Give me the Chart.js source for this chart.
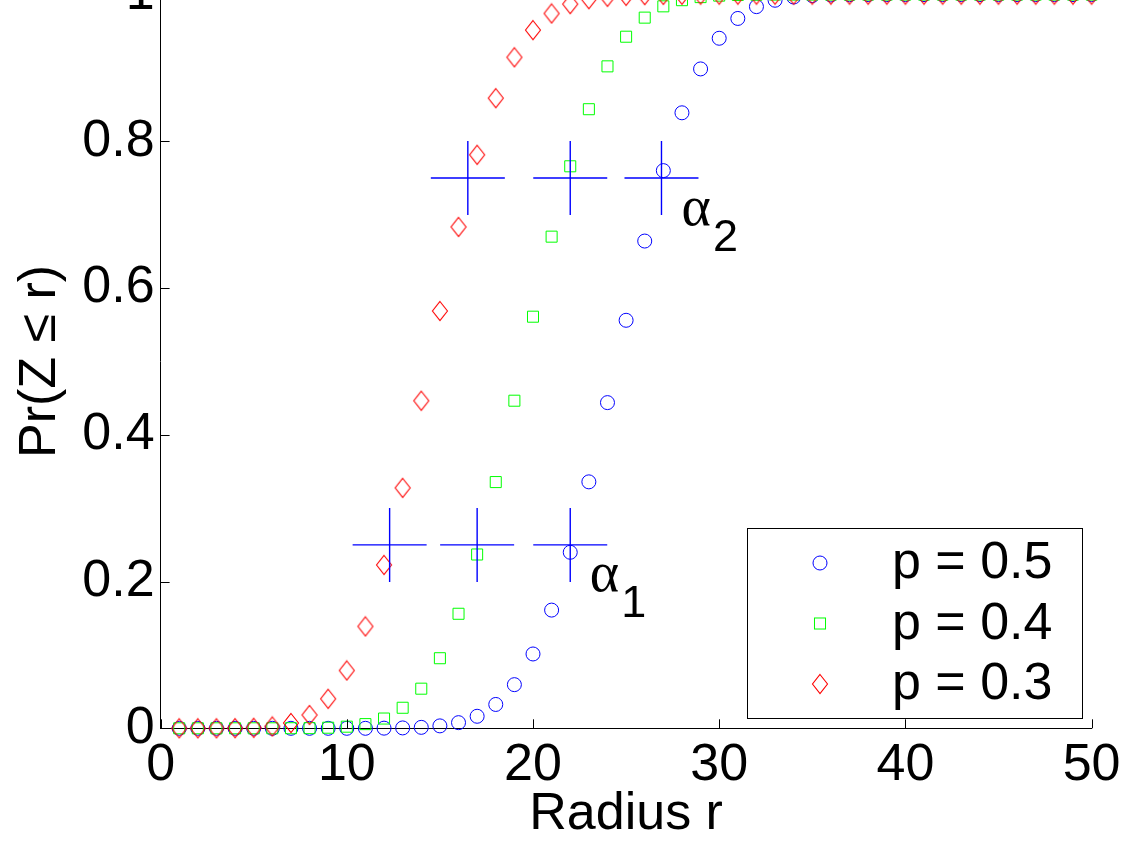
<!DOCTYPE html>
<html>
<head>
<meta charset="utf-8">
<script src="https://cdn.jsdelivr.net/npm/chart.js@4.4.1/dist/chart.umd.min.js"></script>
<style>
html,body{margin:0;padding:0;background:#fff;}
#wrap{position:relative;width:1130px;height:848px;overflow:hidden;background:#fff;}
#c{position:absolute;left:0;top:-60px;}
</style>
</head>
<body>
<div id="wrap"><canvas id="c" width="1130" height="908"></canvas></div>
<script>
// ---- data ----
const radius = [1,2,3,4,5,6,7,8,9,10,11,12,13,14,15,16,17,18,19,20,21,22,23,24,25,
                26,27,28,29,30,31,32,33,34,35,36,37,38,39,40,41,42,43,44,45,46,47,48,49,50];
const seriesLabels = ['p = 0.5', 'p = 0.4', 'p = 0.3'];
const prP05 = [0,0,0,0,0,0,0,0,0,0,0,0.0002,0.0005,0.0013,0.0033,0.0077,0.0164,0.0325,0.0595,0.1013,
               0.1611,0.2399,0.3359,0.4439,0.5561,0.6641,0.7601,0.8389,0.8987,0.9405,0.9675,0.9836,0.9923,0.9967,0.9987,
               0.9995,0.9998,1,1,1,1,1,1,1,1,1,1,1,1,1];
const prP04 = [0,0,0,0,0,0,0.0001,0.0002,0.0008,0.0022,0.0057,0.0133,0.0280,0.0540,0.0955,0.1561,0.2369,0.3356,0.4465,0.5610,
               0.6701,0.7660,0.8438,0.9022,0.9426,0.9686,0.9840,0.9924,0.9966,0.9986,0.9995,0.9998,1,1,1,
               1,1,1,1,1,1,1,1,1,1,1,1,1,1,1];
const prP03 = [0,0,0,0.0002,0.0007,0.0025,0.0073,0.0182,0.0402,0.0788,0.1389,0.2227,0.3277,0.4465,0.5688,0.6834,0.7817,0.8589,0.9146,0.9516,
               0.9743,0.9871,0.9938,0.9970,0.9984,0.9993,0.9997,0.9999,1,1,1,1,1,1,1,
               1,1,1,1,1,1,1,1,1,1,1,1,1,1,1];
const alpha1X = [12.3, 17.0, 22.0];
const alpha1Y = [0.25, 0.25, 0.25];
const alpha2X = [16.5, 22.0, 26.9];
const alpha2Y = [0.75, 0.75, 0.75];
const xTickValues = [0, 10, 20, 30, 40, 50];
const yTickValues = [0, 0.2, 0.4, 0.6, 0.8, 1];

// ---- styling ----
const FONT = '"Liberation Sans", Arial, Helvetica, sans-serif';
const SERIF = '"Liberation Serif", "Times New Roman", serif';
const FS = 52;

function diamondImage(color) {
  const c = document.createElement('canvas');
  c.width = 18; c.height = 22;
  const g = c.getContext('2d');
  g.strokeStyle = color; g.lineWidth = 1.1;
  g.beginPath();
  g.moveTo(9, 1.5); g.lineTo(16.5, 11); g.lineTo(9, 20.5); g.lineTo(1.5, 11);
  g.closePath(); g.stroke();
  return c;
}
const diamondRed = diamondImage('#ff0000');

const pts = (xs, ys) => xs.map((v, i) => ({x: v, y: ys[i]}));

const inwardTicks = {
  id: 'inwardTicks',
  afterDatasetsDraw(chart) {
    const {ctx, chartArea: a, scales: {x, y}} = chart;
    ctx.save();
    ctx.strokeStyle = '#000'; ctx.lineWidth = 1;
    ctx.beginPath();
    x.ticks.forEach(t => {
      const px = Math.round(x.getPixelForValue(t.value)) + 0.5;
      ctx.moveTo(px, a.bottom); ctx.lineTo(px, a.bottom - 9);
    });
    y.ticks.forEach(t => {
      const py = Math.round(y.getPixelForValue(t.value)) + 0.5;
      ctx.moveTo(a.left, py); ctx.lineTo(a.left + 9, py);
    });
    ctx.stroke();
    ctx.restore();
  }
};

const alphaLabels = {
  id: 'alphaLabels',
  afterDatasetsDraw(chart, args, opts) {
    const {ctx, scales: {x, y}} = chart;
    ctx.save();
    ctx.fillStyle = '#000';
    ctx.textBaseline = 'alphabetic';
    ctx.textAlign = 'left';
    opts.items.forEach(it => {
      const px = x.getPixelForValue(it.x), py = y.getPixelForValue(it.y);
      ctx.font = opts.alphaSize + 'px ' + SERIF;
      ctx.fillText('\u03B1', px, py);
      const w = ctx.measureText('\u03B1').width;
      ctx.font = opts.subSize + 'px ' + FONT;
      ctx.fillText(it.sub, px + w + opts.subDx, py + opts.subDy);
    });
    ctx.restore();
  }
};

const boxLegend = {
  id: 'boxLegend',
  afterDraw(chart, args, o) {
    const {ctx, chartArea: a} = chart;
    const right = Math.round(a.right - o.insetRight);
    const bottom = Math.round(a.bottom - o.insetBottom);
    const left = right - o.width, top = bottom - o.height;
    ctx.save();
    ctx.fillStyle = '#fff';
    ctx.fillRect(left, top, o.width, o.height);
    ctx.strokeStyle = '#000'; ctx.lineWidth = 1;
    ctx.strokeRect(left + 0.5, top + 0.5, o.width, o.height);
    chart.data.datasets.slice(0, 3).forEach((ds, i) => {
      const cx = left + o.markerX, cy = top + o.firstRow + i * o.rowGap;
      ctx.strokeStyle = ds.borderColor; ctx.lineWidth = ds.borderWidth;
      const st = ds.pointStyle, r = ds.pointRadius;
      if (typeof st === 'object') {
        ctx.drawImage(st, cx - st.width / 2, cy - st.height / 2);
      } else if (st === 'circle') {
        ctx.beginPath(); ctx.arc(cx, cy, r, 0, Math.PI * 2); ctx.stroke();
      } else if (st === 'rect') {
        const s = r * Math.SQRT1_2;
        ctx.strokeRect(cx - s, cy - s, 2 * s, 2 * s);
      }
      ctx.fillStyle = '#000';
      ctx.font = FS + 'px ' + FONT;
      ctx.textBaseline = 'middle'; ctx.textAlign = 'left';
      ctx.fillText(ds.label, left + o.textX, cy + 1);
    });
    ctx.restore();
  }
};

new Chart(document.getElementById('c'), {
  type: 'scatter',
  data: {
    datasets: [
      {label: seriesLabels[0], data: pts(radius, prP05), pointStyle: 'circle', pointRadius: 7,
       borderColor: '#0000ff', backgroundColor: 'rgba(0,0,0,0)', borderWidth: 1, order: 3, clip: false},
      {label: seriesLabels[1], data: pts(radius, prP04), pointStyle: 'rect', pointRadius: 7.8,
       borderColor: '#00ff00', backgroundColor: 'rgba(0,0,0,0)', borderWidth: 1, order: 2, clip: false},
      {label: seriesLabels[2], data: pts(radius, prP03), pointStyle: diamondRed, pointRadius: 10,
       borderColor: '#ff0000', backgroundColor: 'rgba(0,0,0,0)', borderWidth: 1.1, order: 1, clip: false},
      {label: 'alpha1', data: pts(alpha1X, alpha1Y), pointStyle: 'cross', pointRadius: 37,
       borderColor: '#0000ff', backgroundColor: 'rgba(0,0,0,0)', borderWidth: 1.4, order: 0, clip: false},
      {label: 'alpha2', data: pts(alpha2X, alpha2Y), pointStyle: 'cross', pointRadius: 37,
       borderColor: '#0000ff', backgroundColor: 'rgba(0,0,0,0)', borderWidth: 1.4, order: 0, clip: false}
    ]
  },
  options: {
    responsive: false,
    animation: false,
    devicePixelRatio: 1,
    layout: {padding: {top: 54.6, right: 36, bottom: 0, left: 0}},
    plugins: {
      legend: {display: false},
      tooltip: {enabled: false},
      alphaLabels: {alphaSize: 56, subSize: 45, subDx: 2, subDy: 26,
        items: [{x: 23.05, y: 0.1870, sub: '1'}, {x: 27.98, y: 0.6860, sub: '2'}]},
      boxLegend: {insetRight: 10, insetBottom: 10.3, width: 335, height: 190,
        markerX: 73, firstRow: 35, rowGap: 60.5, textX: 145}
    },
    scales: {
      x: {
        type: 'linear', position: 'bottom', min: 0, max: 50,
        afterBuildTicks: s => { s.ticks = xTickValues.map(v => ({value: v})); },
        afterFit: s => { s.height = 119.7; },
        grid: {display: true, drawOnChartArea: false, drawTicks: false},
        border: {display: true, color: '#000', width: 1},
        ticks: {color: '#000', font: {family: FONT, size: FS}, padding: 6, maxRotation: 0, autoSkip: false,
                callback: v => String(v)},
        title: {display: true, text: 'Radius r', color: '#000', font: {family: FONT, size: FS},
                padding: {top: 0, bottom: 2.5}}
      },
      y: {
        type: 'linear', position: 'left', min: 0, max: 1,
        afterBuildTicks: s => { s.ticks = yTickValues.map(v => ({value: v})); },
        afterFit: s => { s.width = 160.6; },
        grid: {display: true, drawOnChartArea: false, drawTicks: false},
        border: {display: true, color: '#000', width: 1},
        ticks: {color: '#000', font: {family: FONT, size: FS}, padding: 6, autoSkip: false,
                callback: v => String(v)},
        title: {display: true, text: 'Pr(Z \u2264 r)', color: '#000', font: {family: FONT, size: FS},
                padding: {top: 9, bottom: 0}}
      }
    }
  },
  plugins: [inwardTicks, alphaLabels, boxLegend]
});
</script>
</body>
</html>
